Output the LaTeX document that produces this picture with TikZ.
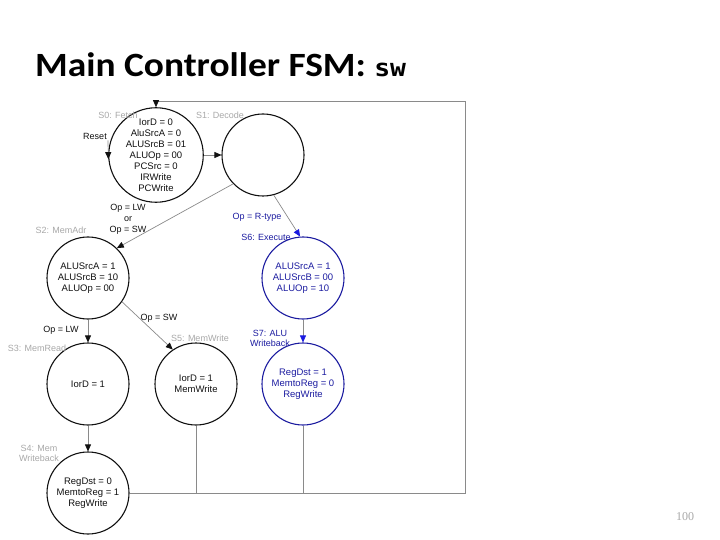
\documentclass[tikz,border=0pt]{standalone}
\usepackage{fontspec}
\setmainfont{Liberation Sans}
\newfontfamily\titlefont{Carlito}
\newfontfamily\codefont{DejaVu Sans Mono}
\newfontfamily\numfont{Liberation Serif}
\usetikzlibrary{arrows.meta, calc}
\definecolor{fsmInk}{HTML}{111111}
\definecolor{fsmBlue}{HTML}{1C1CA0}
\definecolor{fsmTip}{HTML}{1A1AE0}
\definecolor{fsmGrey}{HTML}{A8A8A8}
\definecolor{fsmLine}{HTML}{8A8A8A}
\tikzset{
  state/.style={
    circle, draw=fsmInk, line width=1.1pt, minimum size=82pt,
    inner sep=0pt, align=center, text=fsmInk,
    font=\fontsize{9.5}{11}\selectfont
  },
  rstate/.style={state, draw=fsmBlue, text=fsmBlue},
  slbl/.style={font=\fontsize{9}{10}\selectfont, text=fsmGrey, inner sep=1pt, align=center},
  rlbl/.style={slbl, text=fsmBlue},
  cond/.style={font=\fontsize{9}{11}\selectfont, text=fsmInk, inner sep=1pt, align=center},
  trans/.style={-{Triangle[length=7pt, width=6pt, color=fsmInk]}, line width=0.7pt, draw=fsmLine},
  rtrans/.style={trans, -{Triangle[length=7pt, width=6pt, color=fsmTip]}},
  wire/.style={line width=0.7pt, draw=fsmLine},
}
\begin{document}
\begin{tikzpicture}[x=1pt, y=-1pt]
  \useasboundingbox (0,0) rectangle (720,540);
  \node[anchor=base west, inner sep=0pt, font=\titlefont\bfseries\fontsize{34}{36}\selectfont]
    (title) at (35,77) {\scalebox{1.1}[1]{Main Controller FSM: {\codefont\fontsize{24}{28}\selectfont sw}}};
  \node[font=\numfont\fontsize{12}{14}\selectfont, text=fsmGrey] (page) at (685,517) {100};

  % states
  \node[state]  (S0) at (156,155) {IorD = 0\\AluSrcA = 0\\ALUSrcB = 01\\ALUOp = 00\\PCSrc = 0\\IRWrite\\PCWrite};
  \node[state]  (S1) at (263,155) {};
  \node[state]  (S2) at (88,278)  {ALUSrcA = 1\\ALUSrcB = 10\\ALUOp = 00};
  \node[rstate] (S6) at (303,278) {ALUSrcA = 1\\ALUSrcB = 00\\ALUOp = 10};
  \node[state]  (S3) at (88,384)  {IorD = 1};
  \node[state]  (S5) at (196,384) {IorD = 1\\MemWrite};
  \node[rstate] (S7) at (303,384) {RegDst = 1\\MemtoReg = 0\\RegWrite};
  \node[state]  (S4) at (88,493)  {RegDst = 0\\MemtoReg = 1\\RegWrite};

  % state names
  \node[slbl] (n0) at (118,115) {S0: Fetch};
  \node[slbl] (n1) at (220,115) {S1: Decode};
  \node[slbl] (n2) at (61,230)  {S2: MemAdr};
  \node[slbl] (n3) at (37,348)  {S3: MemRead};
  \node[slbl] (n5) at (200,338) {S5: MemWrite};
  \node[slbl] (n4) at (39,453)  {S4: Mem\\Writeback};
  \node[rlbl] (n6) at (266,237) {S6: Execute};
  \node[rlbl] (n7) at (270,338) {S7: ALU\\Writeback};

  % conditions
  \node[cond] (reset) at (95,136) {Reset};
  \node[cond] (c12) at (128,219) {Op = LW\\or\\Op = SW};
  \node[cond, text=fsmBlue] (c16) at (257,217) {Op = R-type};
  \node[cond] (c23) at (61,330) {Op = LW};
  \node[cond] (c25) at (159,318) {Op = SW};

  % transitions
  \draw[trans] (reset.south east) -- (S0.185);
  \draw[trans] (S0) -- (S1);
  \draw[trans] (S1.224) -- (S2.46);
  \draw[rtrans] (S1.285) -- (S6.94);
  \draw[trans] (S2) -- (S3);
  \draw[trans] (S2.325) -- (S5.124);
  \draw[rtrans] (S6) -- (S7);
  \draw[trans] (S3) -- (S4);

  % back to fetch
  \coordinate (br) at (465,493);
  \coordinate (tr) at (465,101);
  \draw[wire] (S5.south) -- (S5.south |- br);
  \draw[wire] (S7.south) -- (S7.south |- br);
  \draw[trans] (S4.east) -- (br) -- (tr) -| (S0.north);
\end{tikzpicture}
\end{document}
